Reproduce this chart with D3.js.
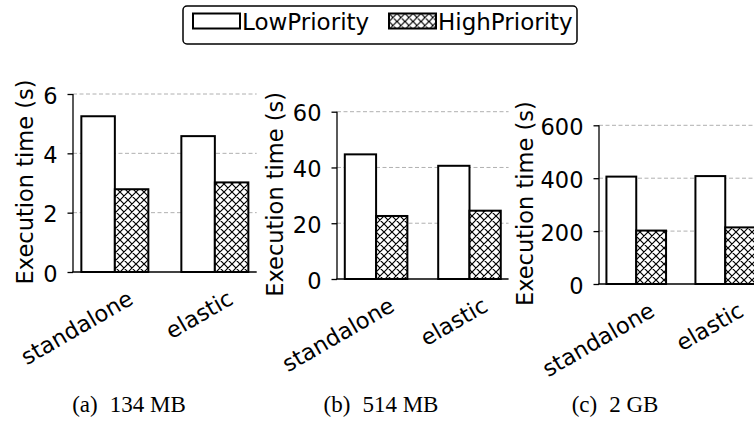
<!DOCTYPE html>
<html>
<head>
<meta charset="utf-8">
<script src="https://cdn.jsdelivr.net/npm/d3@7"></script>
<style>
  body { margin: 0; background: #fff; }
  svg { display: block; font-family: "DejaVu Sans", sans-serif; }
</style>
</head>
<body>
<svg id="chart" width="754" height="432"></svg>
<script>
// data
var categories = ["standalone", "elastic"];
var seriesNames = ["LowPriority", "HighPriority"];

var lowA = [5.25, 4.58],  highA = [2.79, 3.02];
var lowB = [44.7, 40.6],  highB = [22.6, 24.5];
var lowC = [406, 408],    highC = [202, 214];

var ticksA = [0, 2, 4, 6];
var ticksB = [0, 20, 40, 60];
var ticksC = [0, 200, 400, 600];

var captionTags = ["(a)", "(b)", "(c)"];
var captionSizes = ["134 MB", "514 MB", "2 GB"];

var svg = d3.select("#chart");
var barW = 0.335;

// hatch for the high priority bars
var hp = 8;
var defs = svg.append("defs");
var pat = defs.append("pattern")
    .attr("id", "xhatch")
    .attr("patternUnits", "userSpaceOnUse")
    .attr("width", hp).attr("height", hp);
pat.append("rect").attr("width", hp).attr("height", hp).attr("fill", "#fff");
pat.append("path")
    .attr("d", "M0,0L8,8M-1,7L1,9M7,-1L9,1M8,0L0,8M-1,1L1,-1M7,9L9,7")
    .attr("stroke", "#000")
    .attr("stroke-width", 1.2)
    .attr("fill", "none");

// panel layout (pixels)
var panels = [
  { low: lowA, high: highA, ticks: ticksA, x0: 73,  unit: 100,  yTop: 94,    yBot: 272, labelX: 33,  cap: 129 },
  { low: lowB, high: highB, ticks: ticksB, x0: 337, unit: 93.4, yTop: 111.7, yBot: 279, labelX: 283, cap: 381 },
  { low: lowC, high: highC, ticks: ticksC, x0: 599, unit: 89,   yTop: 125.3, yBot: 284, labelX: 533, cap: 615 }
];

panels.forEach(function(p, k) {
  var lo = -barW / 2, hi = 1 + 1.5 * barW, m = 0.05 * (hi - lo);
  var x = d3.scaleLinear()
      .domain([lo - m, hi + m])
      .range([p.x0, p.x0 + p.unit * (hi - lo + 2 * m)]);
  var y = d3.scaleLinear()
      .domain([0, d3.max(p.ticks)])
      .range([p.yBot, p.yTop]);

  var g = svg.append("g").attr("class", "panel");

  // grid
  g.append("g").selectAll("line")
      .data(p.ticks.slice(1))
      .enter().append("line")
      .attr("x1", x.range()[0]).attr("x2", x.range()[1])
      .attr("y1", function(d) { return y(d); })
      .attr("y2", function(d) { return y(d); })
      .attr("stroke", "#b0b0b0")
      .attr("stroke-width", 1)
      .attr("stroke-dasharray", "4,2.5");

  // bars
  g.append("g").selectAll("rect")
      .data(p.low)
      .enter().append("rect")
      .attr("x", function(d, i) { return x(i - barW / 2); })
      .attr("width", function() { return x(barW) - x(0); })
      .attr("y", function(d) { return y(d); })
      .attr("height", function(d) { return y(0) - y(d); })
      .attr("fill", "#fff")
      .attr("stroke", "#000")
      .attr("stroke-width", 2);

  g.append("g").selectAll("rect")
      .data(p.high)
      .enter().append("rect")
      .attr("x", function(d, i) { return x(i + barW / 2); })
      .attr("width", function() { return x(barW) - x(0); })
      .attr("y", function(d) { return y(d); })
      .attr("height", function(d) { return y(0) - y(d); })
      .attr("fill", "url(#xhatch)")
      .attr("stroke", "#000")
      .attr("stroke-width", 2);

  // y axis
  var yAxis = d3.axisLeft(y)
      .tickValues(p.ticks)
      .tickSize(5.5)
      .tickPadding(10)
      .tickFormat(d3.format("d"));
  var ya = g.append("g")
      .attr("transform", "translate(" + p.x0 + ",0)")
      .call(yAxis);
  ya.select(".domain").attr("d", "M0," + p.yTop + "V" + p.yBot)
      .attr("stroke-width", 1.3);
  ya.selectAll(".tick line").attr("stroke-width", 1.3);
  ya.selectAll(".tick text")
      .attr("font-size", 22.5)
      .attr("font-family", "DejaVu Sans")
      .attr("fill", "#000")
      .attr("dy", "0.4em");

  // bottom spine
  g.append("line")
      .attr("x1", x.range()[0] - 0.6).attr("x2", x.range()[1])
      .attr("y1", y(0)).attr("y2", y(0))
      .attr("stroke", "#000")
      .attr("stroke-width", 1.3);

  // x labels
  g.append("g").selectAll("text")
      .data(categories)
      .enter().append("text")
      .attr("transform", function(d, i) {
        return "translate(" + (x(i + barW / 2) + 20) + "," + (y(0) + 31) + ") rotate(-30)";
      })
      .attr("text-anchor", "end")
      .attr("font-size", 22.5)
      .text(function(d) { return d; });

  // y label
  g.append("text")
      .attr("transform", "translate(" + p.labelX + "," + ((p.yTop + p.yBot) / 2 - 1) + ") rotate(-90)")
      .attr("text-anchor", "middle")
      .attr("font-size", 22.5)
      .text("Execution time (s)");

  // caption
  var cap = g.append("text")
      .attr("x", p.cap)
      .attr("y", 412)
      .attr("text-anchor", "middle")
      .attr("font-family", "Liberation Serif, serif")
      .attr("font-size", 23);
  cap.append("tspan").text(captionTags[k]);
  cap.append("tspan").attr("dx", 12).text(captionSizes[k]);
});

// legend
var leg = svg.append("g");
leg.append("rect")
    .attr("x", 183).attr("y", 6)
    .attr("width", 394).attr("height", 38)
    .attr("rx", 4)
    .attr("fill", "#fff")
    .attr("stroke", "#000")
    .attr("stroke-width", 1.5);

var legX = [193, 389];
var items = leg.selectAll("g.item")
    .data(seriesNames)
    .enter().append("g")
    .attr("class", "item")
    .attr("transform", function(d, i) { return "translate(" + legX[i] + ",13.5)"; });
items.append("rect")
    .attr("width", 47).attr("height", 15)
    .attr("fill", function(d, i) { return i ? "url(#xhatch)" : "#fff"; })
    .attr("stroke", "#000")
    .attr("stroke-width", 2);
items.append("text")
    .attr("x", 49)
    .attr("y", 16)
    .attr("font-size", 23)
    .text(function(d) { return d; });
</script>
</body>
</html>
